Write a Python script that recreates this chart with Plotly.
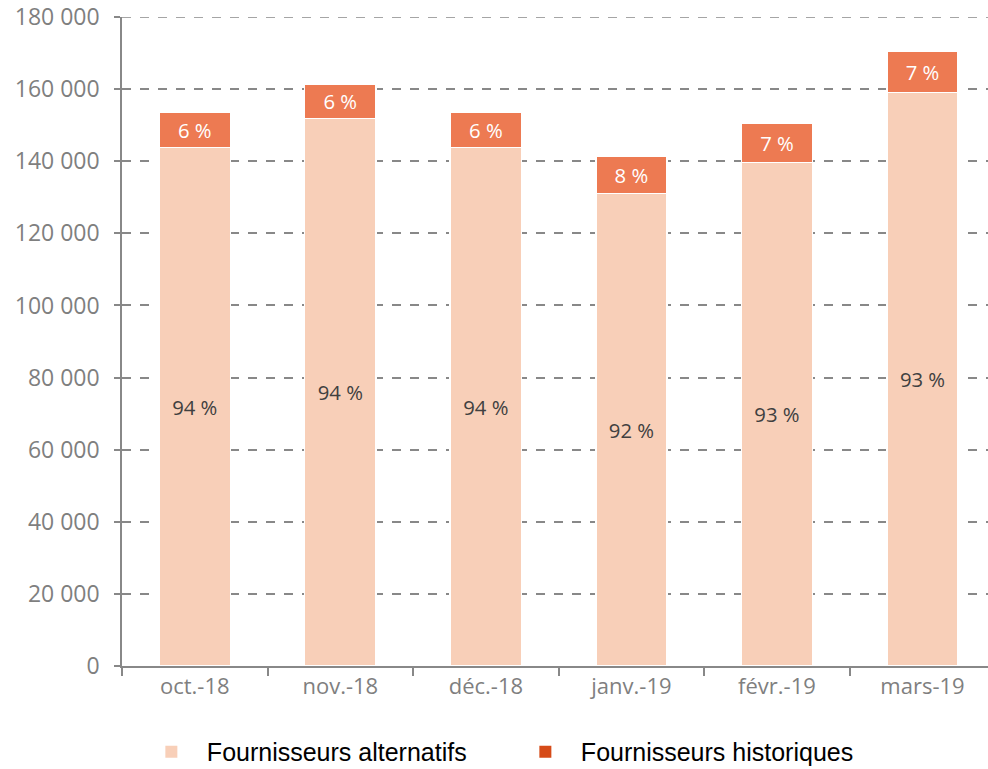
import plotly.graph_objects as go

categories = ["oct.-18", "nov.-18", "déc.-18", "janv.-19", "févr.-19", "mars-19"]
alternatifs = [143800, 151900, 143800, 131000, 139600, 159000]
historiques = [9800, 9400, 9800, 10400, 11000, 11500]
labels_alt = ["94 %", "94 %", "94 %", "92 %", "93 %", "93 %"]
labels_hist = ["6 %", "6 %", "6 %", "8 %", "7 %", "7 %"]
y_ticks = [0, 20000, 40000, 60000, 80000, 100000, 120000, 140000, 160000, 180000]
y_ticktext = ["0", "20 000", "40 000", "60 000", "80 000", "100 000", "120 000", "140 000", "160 000", "180 000"]
y_max = 180000

FONT = "Open Sans"
C_ALT = "#f8cfb8"
C_HIST = "#ed7a52"
C_HIST_LEG = "#d64b18"
C_GRID = "#888888"

fig = go.Figure()
fig.add_trace(go.Bar(
    x=categories, y=alternatifs, name="Fournisseurs alternatifs",
    marker=dict(color=C_ALT, line=dict(color="white", width=1.5)),
    text=labels_alt, textposition="inside", insidetextanchor="middle",
    textfont=dict(color="#404040", size=24, family=FONT),
    showlegend=False, hoverinfo="y",
))
fig.add_trace(go.Bar(
    x=categories, y=historiques, name="Fournisseurs historiques",
    marker=dict(color=C_HIST, line=dict(color="white", width=1.5)),
    text=labels_hist, textposition="inside", insidetextanchor="middle",
    textfont=dict(color="white", size=24, family=FONT),
    showlegend=False, hoverinfo="y",
))
# legend entries
fig.add_trace(go.Scatter(x=[None], y=[None], mode="markers", name="Fournisseurs alternatifs",
                         marker=dict(symbol="square", size=12, color=C_ALT)))
fig.add_trace(go.Scatter(x=[None], y=[None], mode="markers", name="Fournisseurs historiques",
                         marker=dict(symbol="square", size=12, color=C_HIST_LEG)))

# top gridline (plotly omits the gridline on the plot-area edge)
fig.add_shape(type="line", xref="paper", x0=0, x1=1, yref="y", y0=y_max, y1=y_max,
              line=dict(color=C_GRID, width=1.5, dash="dash"), layer="below")

fig.update_layout(
    width=988, height=769,
    barmode="stack", bargap=0.51,
    plot_bgcolor="white", paper_bgcolor="white",
    margin=dict(l=122, r=0, t=17, b=103, autoexpand=False),
    font=dict(family=FONT, color="#7f7f7f", size=22),
    uniformtext=dict(mode="show", minsize=10),
    legend=dict(orientation="h", traceorder="normal",
                x=0.016, xanchor="left", y=-0.1325, yanchor="middle",
                font=dict(family="Liberation Sans Narrow, Arial Narrow, Liberation Sans", size=25, color="#000000"),
                itemwidth=61, entrywidth=298, entrywidthmode="pixels"),
)
fig.update_xaxes(
    type="category", range=[-0.5, 5.45],
    showline=True, linecolor=C_GRID, linewidth=1.5,
    ticks="outside", tickson="boundaries", ticklen=8, tickcolor=C_GRID, tickwidth=1.5,
    tickfont=dict(size=22, color="#7f7f7f", family=FONT),
    showgrid=False,
)
fig.update_yaxes(
    range=[0, y_max], tickvals=y_ticks, ticktext=y_ticktext,
    showline=True, linecolor=C_GRID, linewidth=1.5,
    ticks="outside", ticklen=6, tickcolor=C_GRID, tickwidth=1.5,
    tickfont=dict(size=23, color="#7f7f7f", family=FONT),
    ticklabelstandoff=10, ticklabeloverflow="allow",
    showgrid=True, gridcolor=C_GRID, griddash="dash", gridwidth=1.5,
    zeroline=False,
)

fig.write_html("out.html", config={"displayModeBar": False},
               post_script="document.body.style.margin='0';document.body.style.overflow='hidden';")
